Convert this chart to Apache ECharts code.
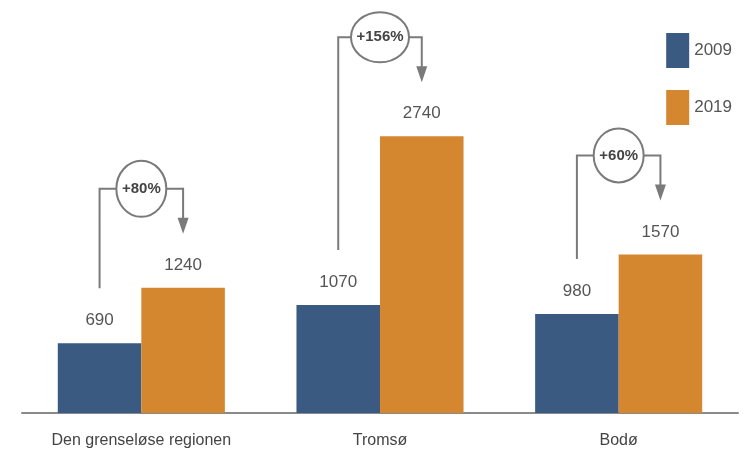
<!DOCTYPE html>
<html><head><meta charset="utf-8">
<script src="https://cdn.jsdelivr.net/npm/echarts@6/dist/echarts.min.js"></script>
<style>html,body{margin:0;padding:0;background:#fff}#c{width:746px;height:461px}</style>
</head><body><div id="c"></div>
<script>
var categories = ['Den grenseløse regionen', 'Tromsø', 'Bodø'];
var seriesNames = ['2009', '2019'];
var values2009 = [690, 1070, 980];
var values2019 = [1240, 2740, 1570];

var FONT = '"Liberation Sans Narrow", "Liberation Sans", sans-serif';
var chart = echarts.init(document.getElementById('c'), null, {renderer: 'canvas'});
var labelStyle = {show: true, position: 'top', distance: 14, color: '#555', fontSize: 17, fontFamily: FONT};
chart.setOption({
  animation: false,
  backgroundColor: '#fff',
  grid: {left: 22, right: 8, top: 9, bottom: 48, containLabel: false},
  legend: {
    orient: 'vertical', right: 9, top: 28, itemWidth: 23, itemHeight: 35, itemGap: 22,
    icon: 'rect', textStyle: {fontSize: 17, color: '#555', fontFamily: FONT},
    data: seriesNames
  },
  xAxis: {
    type: 'category', data: categories,
    axisLine: {lineStyle: {color: '#8a8a8a', width: 2}},
    axisTick: {show: false},
    axisLabel: {color: '#444', fontSize: 16, fontFamily: FONT, margin: 20, interval: 0}
  },
  yAxis: {type: 'value', min: 0, max: 4000, show: false, splitLine: {show: false}},
  series: [
    {name: seriesNames[0], type: 'bar', data: values2009, barGap: '0%', barCategoryGap: '30%',
     itemStyle: {color: '#3a5a82'}, label: labelStyle},
    {name: seriesNames[1], type: 'bar', data: values2019, barGap: '0%', barCategoryGap: '30%',
     itemStyle: {color: '#d4872e'}, label: labelStyle}
  ]
});

function drawAnnotations() {
  var d0 = chart.getModel().getSeriesByIndex(0).getData();
  var d1 = chart.getModel().getSeriesByIndex(1).getData();
  var els = [];
  var lc = '#7a7a7a';
  var ell = [[25, 28], [29, 25], [25, 27]];
  for (var i = 0; i < categories.length; i++) {
    var a = d0.getItemLayout(i), b = d1.getItemLayout(i);
    var ax = a.x + a.width / 2, bx = b.x + b.width / 2;
    var aTop = Math.min(a.y, a.y + a.height), bTop = Math.min(b.y, b.y + b.height);
    var yB = bTop - 99;
    var yStart = aTop - 55;
    var yTip = bTop - 54;
    var cx = (a.x + a.width + b.x) / 2;
    els.push({type: 'polyline', shape: {points: [[ax, yStart], [ax, yB], [bx, yB], [bx, yTip - 14]]},
      style: {stroke: lc, lineWidth: 2, fill: null}, z: 10});
    els.push({type: 'polygon', shape: {points: [[bx - 5.5, yTip - 16], [bx + 5.5, yTip - 16], [bx, yTip]]},
      style: {fill: lc}, z: 10});
    var pct = Math.round((values2019[i] / values2009[i] - 1) * 100);
    els.push({type: 'ellipse', shape: {cx: cx, cy: yB, rx: ell[i][0], ry: ell[i][1]},
      style: {fill: '#fff', stroke: lc, lineWidth: 2}, z: 11});
    els.push({type: 'text', x: cx, y: yB, z: 12,
      style: {text: '+' + pct + '%', fill: '#444', font: 'bold 15px ' + FONT, align: 'center', verticalAlign: 'middle'}});
  }
  chart.setOption({graphic: {elements: els}});
}
drawAnnotations();
</script></body></html>
